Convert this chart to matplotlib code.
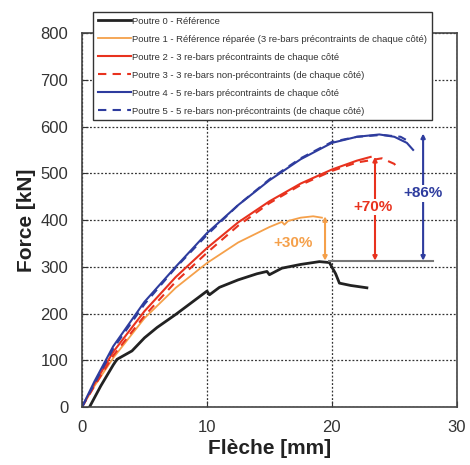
import matplotlib
matplotlib.use("Agg")
import matplotlib.pyplot as plt

plt.rcParams["font.family"] = ["Liberation Sans", "DejaVu Sans"]

# load-deflection curves (x in mm, y in kN)
p0_x = [0.6, 1.5, 2.5, 2.8, 4, 5, 6, 7.5, 7.7, 9, 10, 10.2, 11, 12.5, 14, 14.8, 15.0, 16, 17.5, 19, 19.8, 20.3, 20.6, 21.5, 22.8]
p0_y = [0, 45, 90, 102, 120, 148, 170, 198, 202, 228, 248, 240, 256, 272, 285, 290, 283, 297, 305, 311, 309, 285, 265, 260, 255]

p1_x = [0, 1, 2.5, 5, 7.5, 10, 12.5, 15, 16, 16.2, 16.5, 17.5, 18.5, 19.2]
p1_y = [0, 45, 105, 190, 255, 308, 352, 385, 396, 390, 398, 405, 408, 405]

p2_x = [0, 1, 2.5, 5, 7.5, 10, 12.5, 15, 17.5, 20, 22, 23.1]
p2_y = [0, 50, 118, 205, 278, 340, 395, 440, 478, 508, 527, 535]

p3_x = [0, 1, 2.5, 5, 7.5, 10, 12.5, 15, 17.5, 20, 22, 24, 25, 25.3]
p3_y = [0, 45, 110, 195, 268, 330, 388, 436, 475, 505, 523, 532, 520, 507]

p4_x = [0, 1, 2.5, 5, 7.5, 10, 12.5, 15, 17.5, 20, 22, 23.8, 25, 26, 26.5]
p4_y = [0, 55, 130, 225, 300, 372, 432, 485, 530, 565, 578, 583, 578, 565, 550]

p5_x = [0, 1, 2.5, 5, 7.5, 10, 12.5, 15, 17.5, 20, 22, 24, 25.5, 26.3]
p5_y = [0, 50, 125, 220, 298, 368, 432, 487, 532, 567, 578, 582, 578, 566]

labels = [
    "Poutre 0 - Référence",
    "Poutre 1 - Référence réparée (3 re-bars précontraints de chaque côté)",
    "Poutre 2 - 3 re-bars précontraints de chaque côté",
    "Poutre 3 - 3 re-bars non-précontraints (de chaque côté)",
    "Poutre 4 - 5 re-bars précontraints de chaque côté",
    "Poutre 5 - 5 re-bars non-précontraints (de chaque côté)",
]

# gain annotations: x position, peak, label
base_load = 313
gain_x = [19.45, 23.45, 27.3]
gain_top = [408, 535, 585]
gain_txt = ["+30%", "+70%", "+86%"]
gain_lbl_xy = [(16.9, 351), (23.3, 428), (27.3, 457)]

BLACK = "#222222"
ORANGE = "#F5A04A"
RED = "#E8321E"
BLUE = "#2E3C9E"

fig = plt.figure(figsize=(4.7, 4.65), dpi=100)
ax = fig.add_axes([0.1745, 0.1247, 0.7975, 0.8043])

h0, = ax.plot(p0_x, p0_y, color=BLACK, lw=2.0)
h1, = ax.plot(p1_x, p1_y, color=ORANGE, lw=1.3)
h2, = ax.plot(p2_x, p2_y, color=RED, lw=1.5)
h3, = ax.plot(p3_x, p3_y, color=RED, lw=1.5, ls=(0, (4, 3)))
h4, = ax.plot(p4_x, p4_y, color=BLUE, lw=1.5)
h5, = ax.plot(p5_x, p5_y, color=BLUE, lw=1.5, ls=(0, (4, 3)))

# reference level line
ax.plot([19.8, 28.1], [base_load, base_load], color="#777777", lw=1.5)

for gx, top, txt, (lx, ly), c in zip(gain_x, gain_top, gain_txt, gain_lbl_xy, [ORANGE, RED, BLUE]):
    ax.annotate("", xy=(gx, top), xytext=(gx, base_load),
                arrowprops=dict(arrowstyle="<|-|>", color=c, lw=1.5,
                                mutation_scale=6, shrinkA=0, shrinkB=0))
    ax.text(lx, ly, txt, color=c, fontsize=11, fontweight="bold", ha="center", va="center",
            bbox=dict(facecolor="white", edgecolor="none", pad=1))

ax.set_xlim(0, 30)
ax.set_ylim(0, 800)
ax.set_xticks([0, 10, 20, 30])
ax.set_yticks(range(0, 801, 100))
ax.grid(True, color="#333333", ls=(0, (1.5, 1.5)), lw=0.9)
ax.tick_params(direction="in", length=4, labelsize=12, colors="#333333", labelcolor="#333333")
ax.tick_params(axis="y", pad=10)
ax.tick_params(axis="x", pad=9)
for s in ax.spines.values():
    s.set_color("#444444")
    s.set_linewidth(1.2)

ax.set_xlabel("Flèche [mm]", fontsize=15, fontweight="bold", color="#222222", labelpad=3)
ax.set_ylabel("Force [kN]", fontsize=15, fontweight="bold", color="#222222", labelpad=3)

leg = fig.legend([h0, h1, h2, h3, h4, h5], labels, loc="upper left",
                 bbox_to_anchor=(93 / 470, 1 - 12 / 465), borderaxespad=0,
                 fontsize=6.8, frameon=True, fancybox=False, framealpha=1,
                 edgecolor="#333333", handlelength=3.5, handletextpad=0.15,
                 labelspacing=0.95, borderpad=0.5, labelcolor="#333333")
leg.get_frame().set_linewidth(1.0)

fig.savefig("out.png", dpi=100)
